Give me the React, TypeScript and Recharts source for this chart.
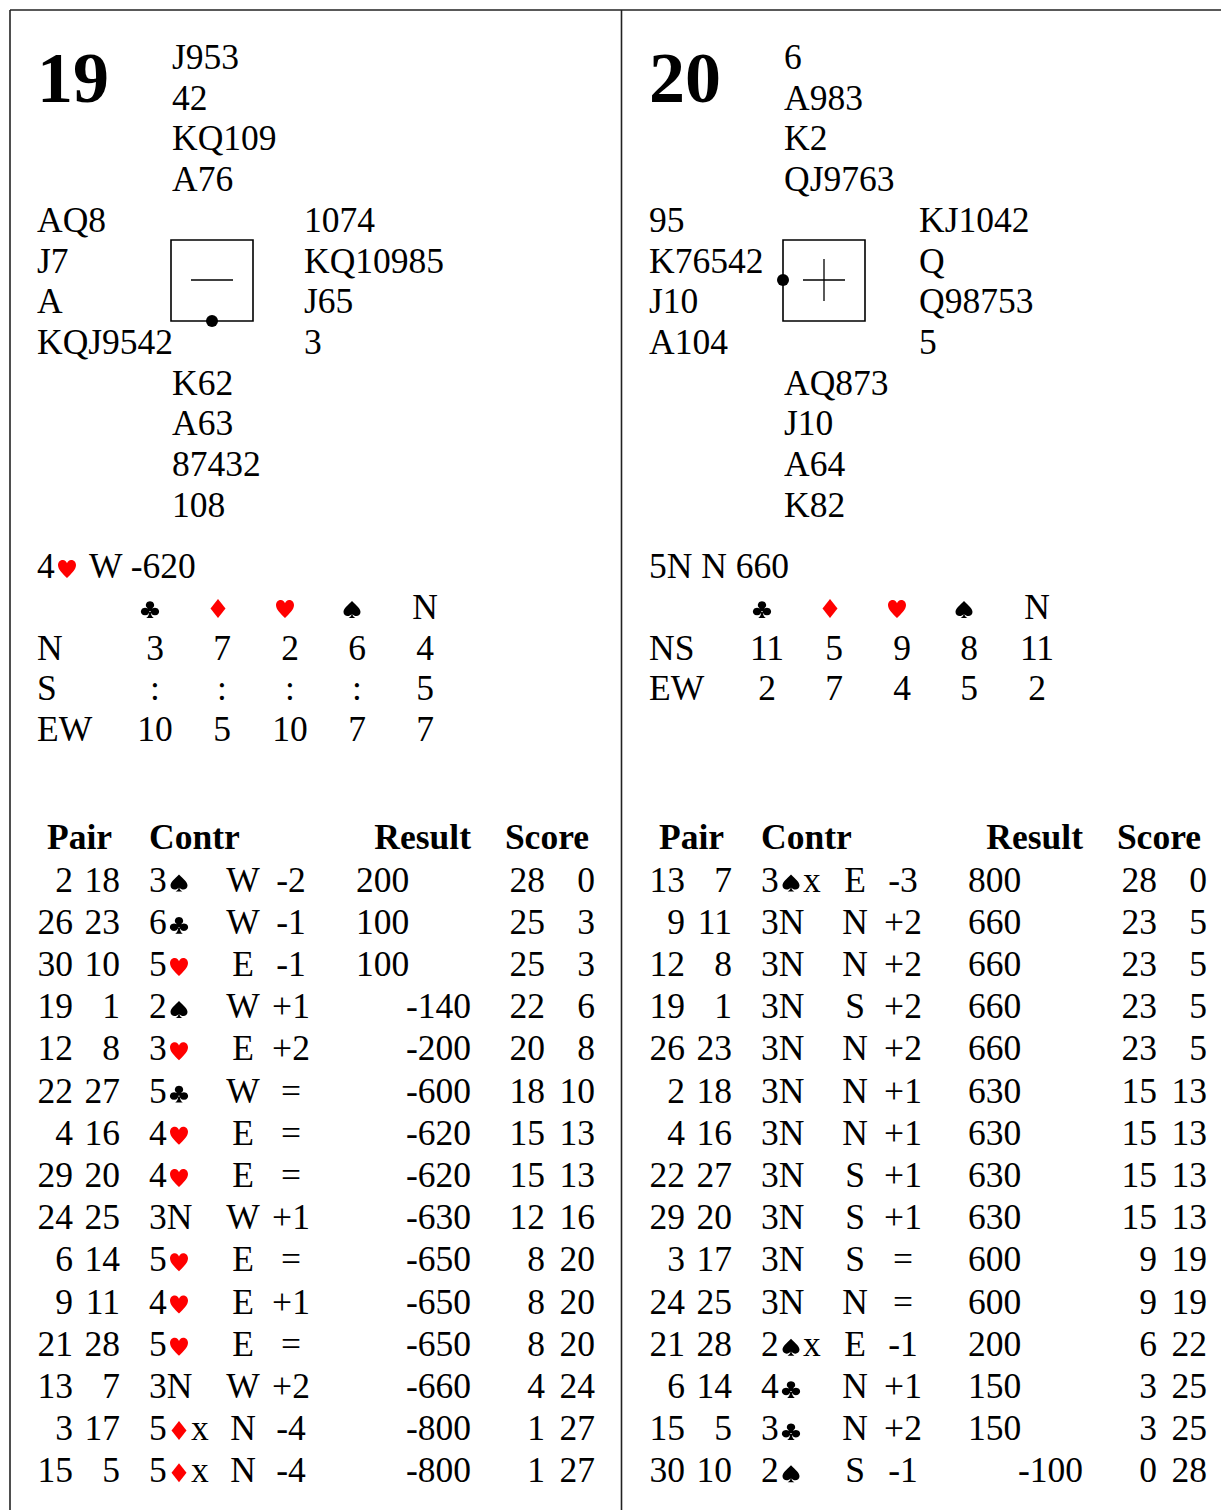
import React from "react";
import { Surface, Layer, Text, Rectangle, Dot } from "recharts";

// --- DATA ---
const boardNumbers = [19, 20];
const northHands = [
  ["J953", "42", "KQ109", "A76"],
  ["6", "A983", "K2", "QJ9763"],
];
const westHands = [
  ["AQ8", "J7", "A", "KQJ9542"],
  ["95", "K76542", "J10", "A104"],
];
const eastHands = [
  ["1074", "KQ10985", "J65", "3"],
  ["KJ1042", "Q", "Q98753", "5"],
];
const southHands = [
  ["K62", "A63", "87432", "108"],
  ["AQ873", "J10", "A64", "K82"],
];
const dealers = ["S", "W"];
const vulnerability = ["EW", "All"];
// par contract, declarer, score
const parResults = [
  ["4H", "W", "-620"],
  ["5N", "N", "660"],
];
const ddStrains = ["C", "D", "H", "S", "N"];
const ddTable19 = [
  ["N", "3", "7", "2", "6", "4"],
  ["S", ":", ":", ":", ":", "5"],
  ["EW", "10", "5", "10", "7", "7"],
];
const ddTable20 = [
  ["NS", "11", "5", "9", "8", "11"],
  ["EW", "2", "7", "4", "5", "2"],
];
const resultHeaders = ["Pair", "Contr", "Result", "Score"];
// pairNS, pairEW, contract, declarer, tricks, score, mpNS, mpEW
const results19: [number, number, string, string, string, number, number, number][] = [
  [2, 18, "3S", "W", "-2", 200, 28, 0],
  [26, 23, "6C", "W", "-1", 100, 25, 3],
  [30, 10, "5H", "E", "-1", 100, 25, 3],
  [19, 1, "2S", "W", "+1", -140, 22, 6],
  [12, 8, "3H", "E", "+2", -200, 20, 8],
  [22, 27, "5C", "W", "=", -600, 18, 10],
  [4, 16, "4H", "E", "=", -620, 15, 13],
  [29, 20, "4H", "E", "=", -620, 15, 13],
  [24, 25, "3N", "W", "+1", -630, 12, 16],
  [6, 14, "5H", "E", "=", -650, 8, 20],
  [9, 11, "4H", "E", "+1", -650, 8, 20],
  [21, 28, "5H", "E", "=", -650, 8, 20],
  [13, 7, "3N", "W", "+2", -660, 4, 24],
  [3, 17, "5Dx", "N", "-4", -800, 1, 27],
  [15, 5, "5Dx", "N", "-4", -800, 1, 27],
];
const results20: [number, number, string, string, string, number, number, number][] = [
  [13, 7, "3Sx", "E", "-3", 800, 28, 0],
  [9, 11, "3N", "N", "+2", 660, 23, 5],
  [12, 8, "3N", "N", "+2", 660, 23, 5],
  [19, 1, "3N", "S", "+2", 660, 23, 5],
  [26, 23, "3N", "N", "+2", 660, 23, 5],
  [2, 18, "3N", "N", "+1", 630, 15, 13],
  [4, 16, "3N", "N", "+1", 630, 15, 13],
  [22, 27, "3N", "S", "+1", 630, 15, 13],
  [29, 20, "3N", "S", "+1", 630, 15, 13],
  [3, 17, "3N", "S", "=", 600, 9, 19],
  [24, 25, "3N", "N", "=", 600, 9, 19],
  [21, 28, "2Sx", "E", "-1", 200, 6, 22],
  [6, 14, "4C", "N", "+1", 150, 3, 25],
  [15, 5, "3C", "N", "+2", 150, 3, 25],
  [30, 10, "2S", "S", "-1", -100, 0, 28],
];
const ddTables = [ddTable19, ddTable20];
const resultTables = [results19, results20];

// --- LAYOUT ---
const W = 1221;
const H = 1510;
const PANEL_DX = 612;
const FONT = '"Liberation Serif", "Times New Roman", serif';
const FS = 35.5;
const eastX = [304, 307];
const handBase = (i: number) => 69 + 40.7 * i;
const rowBase = (i: number) => 891.5 + 42.2 * i;
const ddColX = [155, 222, 290, 357, 425];
const ddHeadX = [150, 218, 285, 352, 425];

// suit shapes drawn in a 100x100 box, bottom at baseline
const suitPaths: Record<string, string> = {
  S: "M50 0 C78 28 100 44 100 64 C100 80 88 88 76 88 C66 88 58 84 53 76 C54 88 60 95 70 100 L30 100 C40 95 46 88 47 76 C42 84 34 88 24 88 C12 88 0 80 0 64 C0 44 22 28 50 0 Z",
  H: "M50 100 C22 72 0 52 0 28 C0 10 13 0 27 0 C38 0 46 7 50 18 C54 7 62 0 73 0 C87 0 100 10 100 28 C100 52 78 72 50 100 Z",
  D: "M50 0 L100 50 L50 100 L0 50 Z",
  C: "M50 2 A22 22 0 1 1 49.9 2 Z M24 40 A22 22 0 1 1 23.9 40 Z M76 40 A22 22 0 1 1 75.9 40 Z M38 40 L62 40 L62 64 L38 64 Z M46 60 C46 80 40 92 30 100 L70 100 C60 92 54 80 54 60 Z",
};
const suitSize: Record<string, [number, number]> = {
  S: [17, 17],
  H: [18, 18],
  D: [15, 19],
  C: [19, 17],
};
const red = (s: string) => s === "H" || s === "D";

const T: React.FC<{
  x: number;
  y: number;
  anchor?: "start" | "middle" | "end";
  bold?: boolean;
  size?: number;
  children: React.ReactNode;
}> = ({ x, y, anchor = "start", bold, size = FS, children }) => (
  <Text
    x={x}
    y={y}
    textAnchor={anchor}
    verticalAnchor="end"
    fontFamily={FONT}
    fontSize={size}
    fontWeight={bold ? 700 : 400}
    fill="#000"
  >
    {children as any}
  </Text>
);

const Suit: React.FC<{ strain: string; cx: number; base: number }> = ({
  strain,
  cx,
  base,
}) => {
  const [w, h] = suitSize[strain];
  return (
    <path
      d={suitPaths[strain]}
      transform={`translate(${cx - w / 2} ${base - h}) scale(${w / 100} ${h / 100})`}
      fill={red(strain) ? "#FF0000" : "#000"}
    />
  );
};

const Contract: React.FC<{ x: number; base: number; code: string }> = ({
  x,
  base,
  code,
}) => {
  const level = code[0];
  const strain = code[1];
  const dbl = code.slice(2);
  if (strain === "N") return <T x={x} y={base}>{level + "N" + dbl}</T>;
  return (
    <Layer>
      <T x={x} y={base}>{level}</T>
      <Suit strain={strain} cx={x + 30} base={base} />
      {dbl && <T x={x + 42} y={base}>{dbl}</T>}
    </Layer>
  );
};

const Compass: React.FC<{ dx: number; dealer: string; vul: string }> = ({
  dx,
  dealer,
  vul,
}) => {
  const x = 171 + dx;
  const y = 240;
  const s = 82;
  const cx = x + s / 2;
  const cy = y + s / 2 - 1;
  const dot: Record<string, [number, number]> = {
    N: [cx, y],
    S: [cx, y + s - 1],
    W: [x, cy],
    E: [x + s, cy],
  };
  return (
    <Layer>
      <Rectangle x={x} y={y} width={s} height={s - 1} fill="none" stroke="#000" strokeWidth={1.6} />
      {(vul === "EW" || vul === "All") && (
        <line x1={cx - 21} x2={cx + 21} y1={cy} y2={cy} stroke="#000" strokeWidth={1.3} />
      )}
      {(vul === "NS" || vul === "All") && (
        <line x1={cx} x2={cx} y1={cy - 21} y2={cy + 21} stroke="#000" strokeWidth={1.3} />
      )}
      <Dot cx={dot[dealer][0]} cy={dot[dealer][1]} r={6} fill="#000" />
    </Layer>
  );
};

const Panel: React.FC<{ p: number }> = ({ p }) => {
  const dx = p * PANEL_DX;
  const [parC, parD, parS] = parResults[p];
  return (
    <Layer>
      <T x={37 + dx} y={102} bold size={72}>{String(boardNumbers[p])}</T>
      {northHands[p].map((h, i) => (
        <T key={"n" + i} x={172 + dx} y={handBase(i)}>{h}</T>
      ))}
      {westHands[p].map((h, i) => (
        <T key={"w" + i} x={37 + dx} y={handBase(4 + i)}>{h}</T>
      ))}
      {eastHands[p].map((h, i) => (
        <T key={"e" + i} x={eastX[p] + dx} y={handBase(4 + i)}>{h}</T>
      ))}
      {southHands[p].map((h, i) => (
        <T key={"s" + i} x={172 + dx} y={handBase(8 + i)}>{h}</T>
      ))}
      <Compass dx={dx} dealer={dealers[p]} vul={vulnerability[p]} />

      {parC[1] === "N" ? (
        <T x={37 + dx} y={578}>{`${parC} ${parD} ${parS}`}</T>
      ) : (
        <Layer>
          <Contract x={37 + dx} base={578} code={parC} />
          <T x={89 + dx} y={578}>{`${parD} ${parS}`}</T>
        </Layer>
      )}

      {ddStrains.map((s, j) =>
        s === "N" ? (
          <T key={"h" + j} x={ddHeadX[j] + dx} y={619} anchor="middle">N</T>
        ) : (
          <Suit key={"h" + j} strain={s} cx={ddHeadX[j] + dx} base={618} />
        )
      )}
      {ddTables[p].map((row, r) => (
        <Layer key={"dd" + r}>
          <T x={37 + dx} y={659.5 + 40.7 * r}>{row[0]}</T>
          {row.slice(1).map((v, j) => (
            <T key={j} x={ddColX[j] + dx} y={659.5 + 40.7 * r} anchor="middle">{v}</T>
          ))}
        </Layer>
      ))}

      <T x={47 + dx} y={849} bold>{resultHeaders[0]}</T>
      <T x={149 + dx} y={849} bold>{resultHeaders[1]}</T>
      <T x={471 + dx} y={849} bold anchor="end">{resultHeaders[2]}</T>
      <T x={589 + dx} y={849} bold anchor="end">{resultHeaders[3]}</T>

      {resultTables[p].map((r, i) => {
        const b = rowBase(i);
        const [p1, p2, c, decl, tr, score, mpN, mpE] = r;
        return (
          <Layer key={"r" + i}>
            <T x={73 + dx} y={b} anchor="end">{String(p1)}</T>
            <T x={120 + dx} y={b} anchor="end">{String(p2)}</T>
            <Contract x={149 + dx} base={b} code={c} />
            <T x={243 + dx} y={b} anchor="middle">{decl}</T>
            <T x={291 + dx} y={b} anchor="middle">{tr}</T>
            {score >= 0 ? (
              <T x={356 + dx} y={b}>{String(score)}</T>
            ) : (
              <T x={471 + dx} y={b} anchor="end">{String(score)}</T>
            )}
            <T x={545 + dx} y={b} anchor="end">{String(mpN)}</T>
            <T x={595 + dx} y={b} anchor="end">{String(mpE)}</T>
          </Layer>
        );
      })}
    </Layer>
  );
};

export default function App() {
  return (
    <div style={{ position: "absolute", left: 0, top: 0, width: W, height: H, background: "#fff" }}>
      <Surface width={W} height={H}>
        <rect x={0} y={0} width={W} height={H} fill="#fff" />
        <line x1={10} x2={W} y1={10} y2={10} stroke="#222" strokeWidth={1.6} />
        <line x1={10} x2={10} y1={10} y2={H} stroke="#222" strokeWidth={1.6} />
        <line x1={621.5} x2={621.5} y1={10} y2={H} stroke="#222" strokeWidth={1.6} />
        {boardNumbers.map((_, p) => (
          <Panel key={p} p={p} />
        ))}
      </Surface>
    </div>
  );
}
